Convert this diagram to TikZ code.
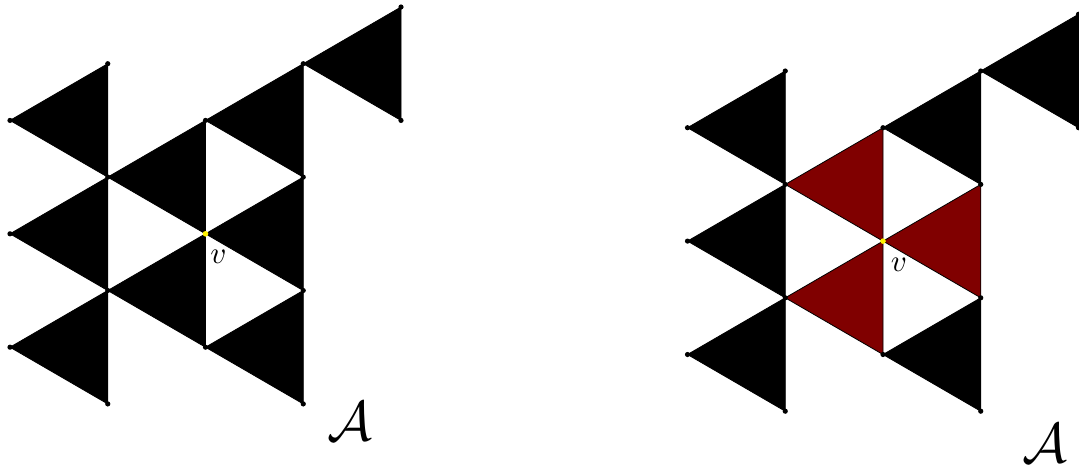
\documentclass[tikz,border=0pt]{standalone}
\definecolor{maroonfill}{HTML}{800000}
\newcommand\mytri[4]{%
  \pgfmathtruncatemacro\tii{#2+1}%
  \pgfmathtruncatemacro\tja{#3-1}%
  \pgfmathtruncatemacro\tjb{#3+1}%
  \filldraw[#4] (#1-#2-#3) -- (#1-\tii-\tja) -- (#1-\tii-\tjb) -- cycle;}
\begin{document}
\begin{tikzpicture}[x=1pt,y=-1pt,
  blacktri/.style={fill=black,draw=black,line width=0.8pt,line join=round},
  redtri/.style={fill=maroonfill,draw=black,line width=0.8pt,line join=round},
  vdot/.style={fill=black},
  ydot/.style={fill=yellow},
  vlabel/.style={inner sep=0pt,scale=3.1},
  alabel/.style={inner sep=0pt,scale=5.6}]
\useasboundingbox (0,0) rectangle (1079,467);
\def\dx{97.75}\def\dy{56.7}
\foreach \pre/\xo/\yo in {L/10/7, R/687.5/14.3}{
  \foreach \i in {0,...,4}{
    \foreach \j in {0,...,7}{
      \coordinate (\pre-\i-\j) at ({\xo+\i*\dx},{\yo+\j*\dy});
    }
  }
}
% left figure
\foreach \i/\j in {0/2,0/4,0/6,1/3,1/5,2/2,2/4,2/6,3/1}{\mytri{L}{\i}{\j}{blacktri}}
% right figure
\foreach \i/\j in {0/2,0/4,0/6,2/2,2/6,3/1}{\mytri{R}{\i}{\j}{blacktri}}
\foreach \i/\j in {1/3,1/5,2/4}{\mytri{R}{\i}{\j}{redtri}}
% dots
\foreach \pre in {L,R}{
  \foreach \i/\j in {0/2,0/4,0/6,1/1,1/3,1/5,1/7,2/2,2/6,3/1,3/3,3/5,3/7,4/0,4/2}{
    \fill[vdot] (\pre-\i-\j) circle (2.6pt);
  }
  \fill[ydot] (\pre-2-4) circle (2.8pt);
}
\node[vlabel] (lv) at ([shift={(13,23)}]L-2-4) {$v$};
\node[vlabel] (rv) at ([shift={(16,24)}]R-2-4) {$v$};
\node[alabel] (la) at (350,421) {$\mathcal{A}$};
\node[alabel] (ra) at (1045,443) {$\mathcal{A}$};
\end{tikzpicture}
\end{document}
